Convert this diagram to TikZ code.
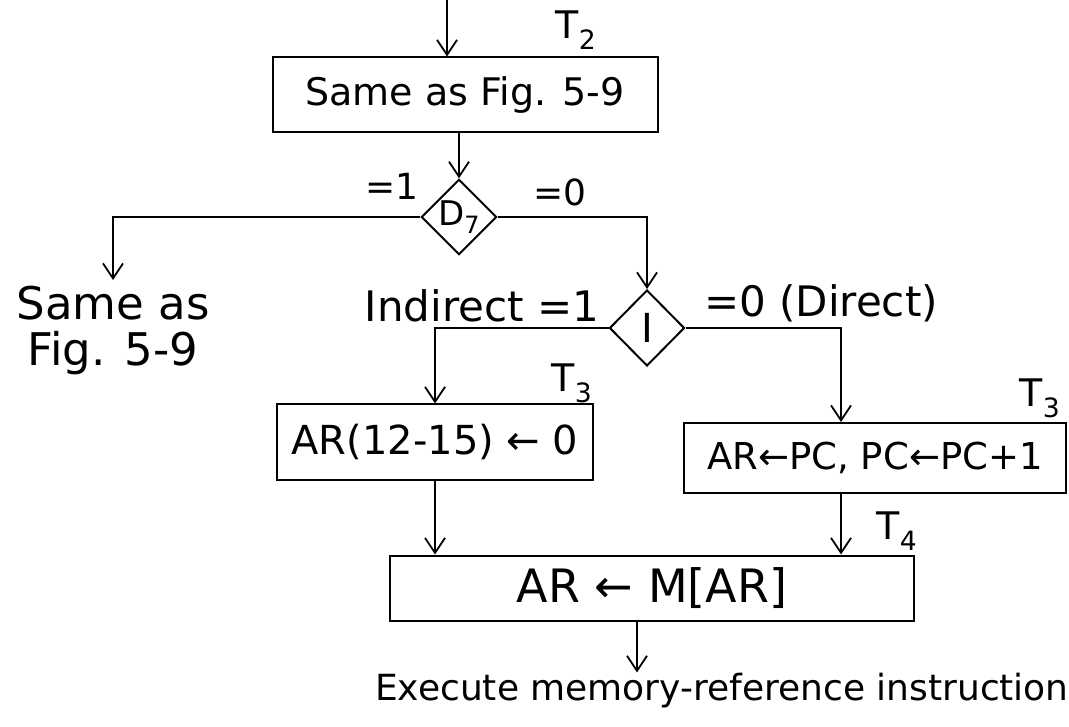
\documentclass[tikz,border=0pt]{standalone}
\usepackage{fontspec}
\setmainfont{DejaVu Sans}
\usetikzlibrary{shapes.geometric,arrows.meta}
\begin{document}
\begin{tikzpicture}[x=1pt,y=-1pt,
  every node/.style={inner sep=0pt},
  arr/.style={line width=2pt,-{Straight Barb[length=15pt,width=20pt,line width=1.8pt]}},
  box/.style={draw,line width=2pt,rectangle},
  dia/.style={draw,line width=2pt,diamond,aspect=1},
  fs/.style={font=\fontsize{#1}{#1}\selectfont}]
\useasboundingbox (0,0) rectangle (1069,727);
% named reference coordinates
\coordinate (top) at (447,0);
\coordinate (c4) at (841,0);
\coordinate (c5) at (637,0);
% boxes and decisions
\node[box,minimum width=385pt,minimum height=75pt,fs=38] (b1) at (465,95) {Same as Fig. 5-9};
\node[dia,minimum width=74pt,minimum height=72pt,fs=34] (d7) at (459,217) {D\textsubscript{7}};
\node[dia,minimum width=75pt,minimum height=76pt,fs=40] (i) at (647,328) {I};
\node[box,minimum width=316pt,minimum height=75pt,fs=40] (b3) at (435,442) {AR(12-15) ← 0};
\node[box,minimum width=382pt,minimum height=70pt,fs=37] (b4) at (875,458) {AR←PC, PC←PC+1};
\node[box,minimum width=524pt,minimum height=65pt,fs=46] (b5) at (652,588) {AR ← M[AR]};
\node[anchor=north,align=center,inner ysep=6pt,font=\fontsize{45}{46}\selectfont] (sa) at (113,280) {Same as\\Fig. 5-9};
\node[anchor=base,fs=36] (ex) at (722,700) {Execute memory-reference instruction};
% labels
\node[fs=38] (t2) at (576,30) {T\textsubscript{2}};
\node[fs=36] (l1) at (392,186) {=1};
\node[fs=36] (l0) at (560,192) {=0};
\node[anchor=base,fs=42] (ind) at (482,322) {Indirect =1};
\node[anchor=base,fs=42] (dir) at (821,317) {=0 (Direct)};
\node[fs=38] (t3a) at (572,383) {T\textsubscript{3}};
\node[fs=38] (t3b) at (1040,398) {T\textsubscript{3}};
\node[fs=38] (t4) at (897,531) {T\textsubscript{4}};
% connectors
\draw[arr] (top) -- (top |- b1.north);
\draw[arr] (b1.south -| d7.north) -- (d7.north);
\draw[arr] (d7.west) -| (sa.north);
\draw[arr] (d7.east) -| (i.north);
\draw[arr] (i.west) -| (b3.north);
\draw[arr] (i.east) -| (c4 |- b4.north);
\draw[arr] (b3.south) -- (b3.south |- b5.north);
\draw[arr] (c4 |- b4.south) -- (c4 |- b5.north);
\draw[arr] (c5 |- b5.south) -- (c5 |- ex.north);
\end{tikzpicture}
\end{document}
